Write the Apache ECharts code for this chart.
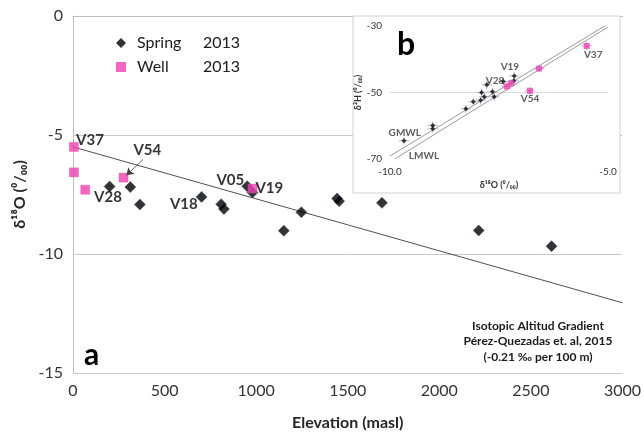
<!DOCTYPE html>
<html><head><meta charset="utf-8">
<script src="https://cdn.jsdelivr.net/npm/echarts@6/dist/echarts.min.js"></script>
<style>html,body{margin:0;padding:0;background:#fff}#c{width:644px;height:436px}</style>
</head><body><div id="c"></div>
<script>
// ---- panel a: elevation vs d18O ----
const springElev = [200, 313, 365, 702, 809, 824, 951, 980, 1151, 1247, 1442, 1453, 1687, 2215, 2613];
const springO18  = [-7.16, -7.19, -7.92, -7.60, -7.91, -8.11, -7.15, -7.42, -9.02, -8.25, -7.67, -7.78, -7.85, -9.01, -9.67];
const wellElev   = [5, 5, 67, 276, 980];
const wellO18    = [-5.50, -6.57, -7.30, -6.79, -7.25];
const gradientElev = [0, 3000];
const gradientO18  = [-5.50, -12.05];
const pointLabels = ['V37', 'V54', 'V28', 'V18', 'V05', 'V19'];
const labelElev   = [93, 406, 191, 605, 859, 1072];
const labelO18    = [-5.21, -5.62, -7.60, -7.91, -6.88, -7.23];
const arrowElev = [382, 292];
const arrowO18  = [-6.03, -6.69];
const xTicksA = [0, 500, 1000, 1500, 2000, 2500, 3000];
const yTicksA = [0, -5, -10, -15];

// ---- panel b: d18O vs d2H ----
const springO18b = [-9.68, -9.02, -9.02, -8.26, -8.09, -7.92, -7.90, -7.84, -7.78, -7.65, -7.61, -7.40, -7.16, -7.15];
const springH2b  = [-64.5, -59.9, -60.9, -54.9, -52.8, -52.3, -50.0, -51.3, -47.7, -49.8, -51.3, -46.7, -46.5, -45.0];
const wellO18b = [-7.32, -7.22, -6.58, -6.79, -5.49];
const wellH2b  = [-48.2, -47.2, -42.8, -49.5, -36.0];
const gmwlO18 = [-10.0, -5.0];
const gmwlH2  = [-69.1, -29.4];
const lmwlO18 = [-9.89, -5.0];
const lmwlH2  = [-70.0, -30.3];
const errO18 = 0.12, errH2 = 1.2;
const labelsB = ['V19', 'V28', 'V54', 'V37', 'GMWL', 'LMWL'];
const labelsBO18 = [-7.25, -7.59, -6.79, -5.34, -9.66, -9.22];
const labelsBH2  = [-42.3, -46.5, -52.0, -38.7, -62.2, -69.1];

const FONT = 'Lato';
const zip = (a, b) => a.map((v, i) => [v, b[i]]);

function errRender(params, api) {
  const x = api.value(0), y = api.value(1);
  const p1 = api.coord([x - errO18, y]), p2 = api.coord([x + errO18, y]);
  const p3 = api.coord([x, y - errH2]), p4 = api.coord([x, y + errH2]);
  const st = { stroke: '#b8b8b8', lineWidth: 1 };
  return { type: 'group', children: [
    { type: 'line', shape: { x1: p1[0], y1: p1[1], x2: p2[0], y2: p2[1] }, style: st },
    { type: 'line', shape: { x1: p3[0], y1: p3[1], x2: p4[0], y2: p4[1] }, style: st }
  ]};
}

const chart = echarts.init(document.getElementById('c'));
chart.setOption({
  animation: false,
  textStyle: { fontFamily: FONT },
  grid: [
    { left: 73, right: 21, top: 16, bottom: 57 },
    { left: 390, right: 36, top: 26, bottom: 277 }
  ],
  xAxis: [
    { gridIndex: 0, type: 'value', min: xTicksA[0], max: xTicksA[xTicksA.length - 1], interval: 500,
      axisLine: { show: true, lineStyle: { color: '#bfbfbf' } }, axisTick: { show: false },
      splitLine: { show: false },
      axisLabel: { color: '#333', fontSize: 16, margin: 10, fontFamily: FONT, formatter: v => String(v) },
      name: 'Elevation (masl)', nameLocation: 'middle', nameGap: 42,
      nameTextStyle: { color: '#262626', fontSize: 16, fontWeight: 'bold', fontFamily: FONT } },
    { gridIndex: 1, type: 'value', min: -10, max: -5, interval: 5, z: 3,
      axisLine: { show: false }, axisTick: { show: false }, splitLine: { show: false },
      axisLabel: { color: '#333', fontSize: 10, margin: 8, formatter: v => v.toFixed(1) },
      name: 'δ¹⁸O (⁰/₀₀)', nameLocation: 'middle', nameGap: 22,
      nameTextStyle: { color: '#333', fontSize: 9, fontWeight: 'bold' } }
  ],
  yAxis: [
    { gridIndex: 0, type: 'value', min: yTicksA[3], max: yTicksA[0], interval: 5,
      axisLine: { show: true, lineStyle: { color: '#bfbfbf' } }, axisTick: { show: false },
      splitLine: { show: true, lineStyle: { color: '#c8c8c8' } },
      axisLabel: { color: '#333', fontSize: 16, margin: 10 },
      name: 'δ¹⁸O (⁰/₀₀)', nameLocation: 'middle', nameGap: 43, nameRotate: 90,
      nameTextStyle: { color: '#262626', fontSize: 16, fontWeight: 'bold' } },
    { gridIndex: 1, type: 'value', min: -70, max: -30, interval: 20, z: 3,
      axisLine: { show: false }, axisTick: { show: false },
      splitLine: { show: true, lineStyle: { color: ['rgba(0,0,0,0)', '#d9d9d9', 'rgba(0,0,0,0)'] } },
      axisLabel: { color: '#333', fontSize: 10, margin: 8 },
      name: 'δ²H (⁰/₀₀)', nameLocation: 'middle', nameGap: 24, nameRotate: 90,
      nameTextStyle: { color: '#333', fontSize: 9, fontWeight: 'bold' } }
  ],
  legend: {
    data: [{ name: 'Spring', itemStyle: { borderWidth: 0 } }, { name: 'Well', itemStyle: { borderWidth: 0 } }],
    orient: 'vertical', left: 111, top: 30, itemGap: 8,
    itemWidth: 10, itemHeight: 10,
    formatter: n => '{a|' + n + '}{b|2013}',
    textStyle: { fontSize: 16, color: '#1a1a1a', fontFamily: FONT,
      rich: { a: { width: 66, padding: [0, 0, 0, 6], fontSize: 16, fontFamily: FONT, color: '#1a1a1a' },
              b: { fontSize: 16, fontFamily: FONT, color: '#1a1a1a' } } }
  },
  graphic: [
    { type: 'rect', z: 1, shape: { x: 353, y: 16, width: 267, height: 177 },
      style: { fill: '#fff', stroke: '#d0d0d0', lineWidth: 1 } },
    { type: 'text', z: 5, left: 397, top: 29, style: { text: 'b', font: 'bold 32px ' + FONT, fill: '#000' } },
    { type: 'text', z: 5, left: 84, top: 340, style: { text: 'a', font: 'bold 30px ' + FONT, fill: '#000' } },
    { type: 'text', z: 5, x: 538, y: 318, style: {
        text: 'Isotopic Altitud Gradient\nPérez-Quezadas et. al, 2015\n(-0.21 ‰ per 100 m)',
        font: 'bold 12px ' + FONT, fill: '#1a1a1a', align: 'center', verticalAlign: 'top', lineHeight: 15.5 } }
  ],
  series: [
    { name: 'gradient', type: 'line', xAxisIndex: 0, yAxisIndex: 0, data: zip(gradientElev, gradientO18),
      symbol: 'none', lineStyle: { color: '#505050', width: 1 }, z: 2, silent: true },
    { name: 'Spring', type: 'scatter', xAxisIndex: 0, yAxisIndex: 0, data: zip(springElev, springO18),
      symbol: 'diamond', symbolSize: 11, itemStyle: { color: '#000', borderColor: '#1d3d66', borderWidth: 0.6 }, z: 4 },
    { name: 'Well', type: 'scatter', xAxisIndex: 0, yAxisIndex: 0, data: zip(wellElev, wellO18),
      symbol: 'rect', symbolSize: 9, itemStyle: { color: '#f23db6', borderColor: '#d8508f', borderWidth: 0.5 }, z: 5 },
    { name: 'arrow', type: 'lines', coordinateSystem: 'cartesian2d', xAxisIndex: 0, yAxisIndex: 0,
      data: [{ coords: zip(arrowElev, arrowO18) }], symbol: ['none', 'arrow'], symbolSize: 7,
      lineStyle: { color: '#404040', width: 0.8, opacity: 1 }, z: 6, silent: true },
    { name: 'labelsA', type: 'scatter', xAxisIndex: 0, yAxisIndex: 0, symbolSize: 0, silent: true, z: 7,
      data: pointLabels.map((t, i) => ({ value: [labelElev[i], labelO18[i]], name: t })),
      label: { show: true, position: 'inside', formatter: p => p.name, color: '#000',
        fontWeight: 'bold', fontSize: 15, fontFamily: FONT } },
    // inset
    { name: 'errS', type: 'custom', xAxisIndex: 1, yAxisIndex: 1, renderItem: errRender,
      data: zip(springO18b, springH2b), z: 3, silent: true },
    { name: 'errW', type: 'custom', xAxisIndex: 1, yAxisIndex: 1, renderItem: errRender,
      data: zip(wellO18b, wellH2b), z: 3, silent: true },
    { name: 'GMWL', type: 'line', xAxisIndex: 1, yAxisIndex: 1, data: zip(gmwlO18, gmwlH2),
      symbol: 'none', lineStyle: { color: '#9a9a9a', width: 1 }, z: 4, silent: true },
    { name: 'LMWL', type: 'line', xAxisIndex: 1, yAxisIndex: 1, data: zip(lmwlO18, lmwlH2),
      symbol: 'none', lineStyle: { color: '#9a9a9a', width: 1 }, z: 4, silent: true },
    { name: 'Spring b', type: 'scatter', xAxisIndex: 1, yAxisIndex: 1, data: zip(springO18b, springH2b),
      symbol: 'diamond', symbolSize: 5, itemStyle: { color: '#0a0a1a' }, z: 5 },
    { name: 'Well b', type: 'scatter', xAxisIndex: 1, yAxisIndex: 1, data: zip(wellO18b, wellH2b),
      symbol: 'rect', symbolSize: 6, itemStyle: { color: '#f23db6' }, z: 6 },
    { name: 'labelsB', type: 'scatter', xAxisIndex: 1, yAxisIndex: 1, symbolSize: 0, silent: true, z: 7,
      data: labelsB.map((t, i) => ({ value: [labelsBO18[i], labelsBH2[i]], name: t })),
      label: { show: true, position: 'inside', formatter: p => p.name, color: '#333',
        fontWeight: 'bold', fontSize: 10, fontFamily: FONT } }
  ]
});
</script>
</body></html>
